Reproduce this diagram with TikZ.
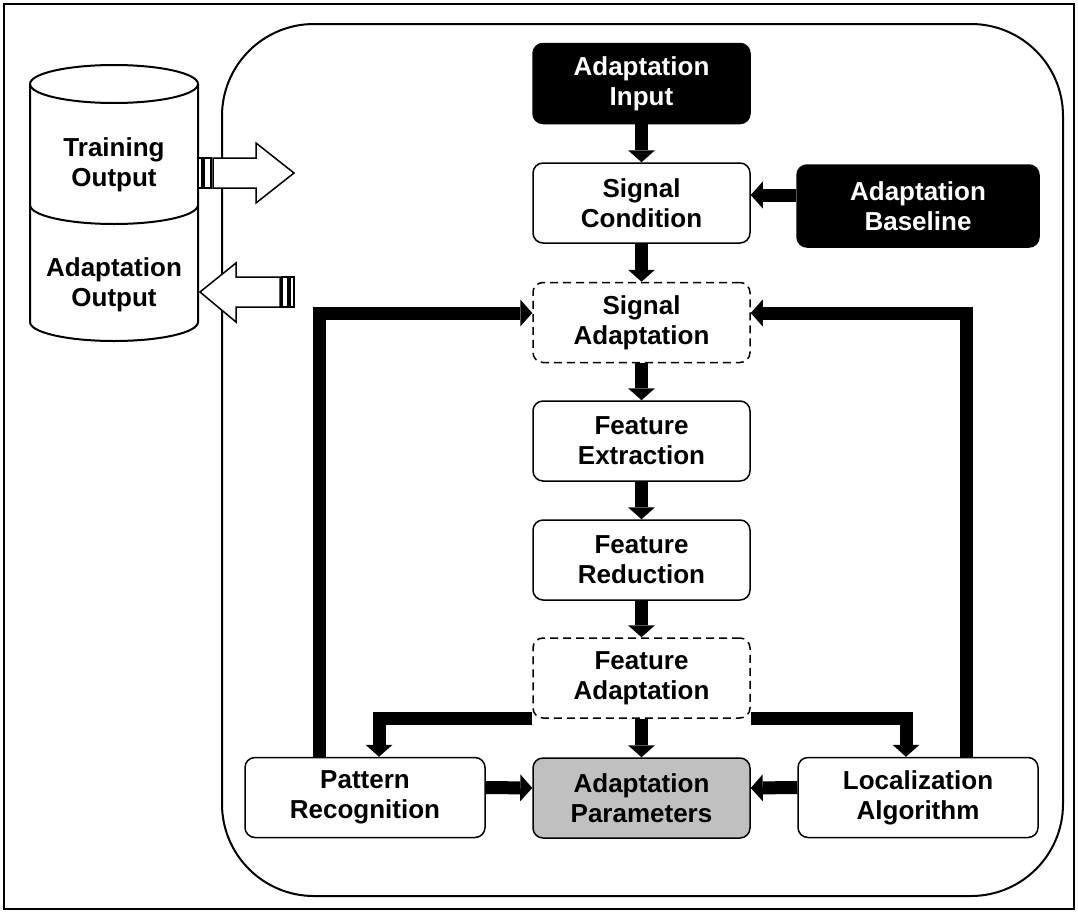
\documentclass[tikz,border=0pt]{standalone}
\usepackage{fontspec}
\setmainfont{Liberation Sans}
\usetikzlibrary{arrows.meta, backgrounds}
\definecolor{paramgray}{RGB}{192,192,192}
\tikzset{
    pbox/.style={draw,fill=white,rounded corners=10pt,line width=1.5pt,
        minimum width=217pt,minimum height=80pt,inner sep=0pt,align=center,
        font=\fontsize{26}{30}\selectfont\bfseries},
    dbox/.style={pbox,dash pattern=on 8pt off 5pt},
    bbox/.style={pbox,fill=black,text=white},
    wbox/.style={pbox,minimum width=240pt},
    ctext/.style={align=center,inner sep=0pt,font=\fontsize{26}{30}\selectfont\bfseries},
    frame/.style={draw,line width=2pt},
    blockarrow/.style={draw,fill=white,line width=1.5pt,line join=miter},
    hv/.style={to path={-| (\tikztotarget)}},
    vh/.style={to path={|- (\tikztotarget)}},
    flows/.style={
        every edge/.style={draw,line width=13pt,line join=miter,
            -{Triangle[width=27pt,length=12pt,line width=0pt]}},
    }
}
\begin{document}
\begin{tikzpicture}[x=1pt,y=-1pt,flows]
\useasboundingbox (0,0) rectangle (1078,913);
\draw[frame] (4,4) rectangle (1074,909);
\draw[frame,rounded corners=92pt] (222,24) rectangle (1063,896);
% storage
\fill[white] (30,84) rectangle (198,322);
\draw[frame] (30,84) -- (30,322) arc[start angle=180,end angle=0,x radius=84,y radius=19] -- (198,84);
\draw[frame] (114,84) ellipse[x radius=84,y radius=19];
\draw[frame] (30,205) arc[start angle=180,end angle=0,x radius=84,y radius=19];
\node[ctext] (train) at (114,165) {Training\\Output};
\node[ctext] (adout) at (114,285) {Adaptation\\Output};
% in and out
\draw[blockarrow] (198,158) rectangle (202,188) (204,158) rectangle (211,188);
\draw[blockarrow] (213,158) -- (256,158) -- (256,143) -- (294,173) -- (256,203) -- (256,188) -- (213,188) -- cycle;
\draw[blockarrow] (282,277) rectangle (288,307) (290,277) rectangle (294,307);
\draw[blockarrow] (280,277) -- (236,277) -- (236,263) -- (200,292) -- (236,322) -- (236,307) -- (280,307) -- cycle;
% chain
\node[bbox] (in) at (641.5,83.5) {Adaptation\\Input};
\node[pbox] (cond) at (641.5,203) {Signal\\Condition};
\node[bbox,minimum width=242pt,minimum height=82pt] (base) at (918,206) {Adaptation\\Baseline};
\node[dbox] (sadapt) at (641.5,322.5) {Signal\\Adaptation};
\node[pbox] (fext) at (641.5,441) {Feature\\Extraction};
\node[pbox] (fred) at (641.5,560) {Feature\\Reduction};
\node[dbox] (fadapt) at (641.5,678) {Feature\\Adaptation};
\node[pbox,fill=paramgray] (param) at (641.5,798) {Adaptation\\Parameters};
\node[wbox] (pat) at (365,797.5) {Pattern\\Recognition};
\node[wbox] (loc) at (918,797.5) {Localization\\Algorithm};
\path
    (in) edge (cond)
    (cond) edge (sadapt)
    (sadapt) edge (fext)
    (fext) edge (fred)
    (fred) edge (fadapt)
    (fadapt) edge (param)
    ([yshift=11pt]base.west) edge ([yshift=11pt]base.west -| cond.east)
    (fadapt.south west) edge[hv] ([xshift=14pt]pat.north)
    (fadapt.south east) edge[hv] ([xshift=-12pt]loc.north)
    ([xshift=-46pt]pat.north) edge[vh] ([yshift=9.5pt]sadapt.west)
    ([xshift=48pt]loc.north) edge[vh] ([yshift=9.5pt]sadapt.east)
    ([yshift=10pt]pat.east) edge ([yshift=10pt]param.west)
    ([yshift=10pt]loc.west) edge ([yshift=10pt]param.east)
;
\end{tikzpicture}
\end{document}
